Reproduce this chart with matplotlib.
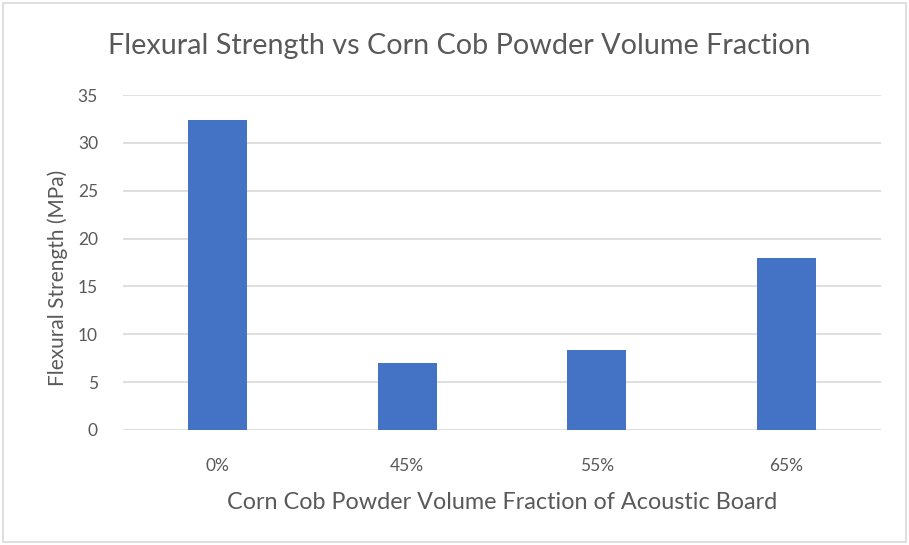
import matplotlib
matplotlib.use("Agg")
import matplotlib.pyplot as plt
from matplotlib.patches import Rectangle

plt.rcParams['font.family'] = ['Lato', 'DejaVu Sans']

# flexural test results per corn cob powder fraction
fracciones = ['0%', '45%', '55%', '65%']
resistencia = [32.4, 7.0, 8.4, 18.0]
y_ticks = [0, 5, 10, 15, 20, 25, 30, 35]

GRIS = '#595959'
AZUL = '#4472C4'

fig = plt.figure(figsize=(9.09, 5.45), dpi=100)
ax = fig.add_axes([123 / 909, 1 - 430 / 545, (881 - 123) / 909, (430 - 95) / 545])

x = range(len(fracciones))
ax.bar(x, resistencia, width=0.31, color=AZUL, zorder=3)

ax.set_xlim(-0.5, len(fracciones) - 0.5)
ax.set_ylim(0, 35)
ax.set_yticks(y_ticks)
ax.set_xticks(list(x))
ax.set_xticklabels(fracciones)
ax.grid(axis='y', color='#d9d9d9', linewidth=1.2, zorder=0)
for s in ax.spines.values():
    s.set_visible(False)
ax.tick_params(axis='both', length=0, colors=GRIS, labelsize=12.5)
ax.tick_params(axis='y', pad=18)
ax.tick_params(axis='x', pad=20)

ax.set_xlabel('Corn Cob Powder Volume Fraction of Acoustic Board', fontsize=16.8, color=GRIS, labelpad=13)
ax.set_ylabel('Flexural Strength (MPa)', fontsize=15, color=GRIS)
ax.yaxis.set_label_coords(-0.073, 0.455)
fig.text(459 / 909, 1 - 46 / 545, 'Flexural Strength vs Corn Cob Powder Volume Fraction',
         ha='center', va='center', fontsize=20.7, color=GRIS)

# chart frame
fig.patches.append(Rectangle((3 / 909, 3 / 545), 903 / 909, 539 / 545, transform=fig.transFigure,
                             fill=False, edgecolor='#d9d9d9', linewidth=1.2))

fig.savefig('out.png', dpi=100)
